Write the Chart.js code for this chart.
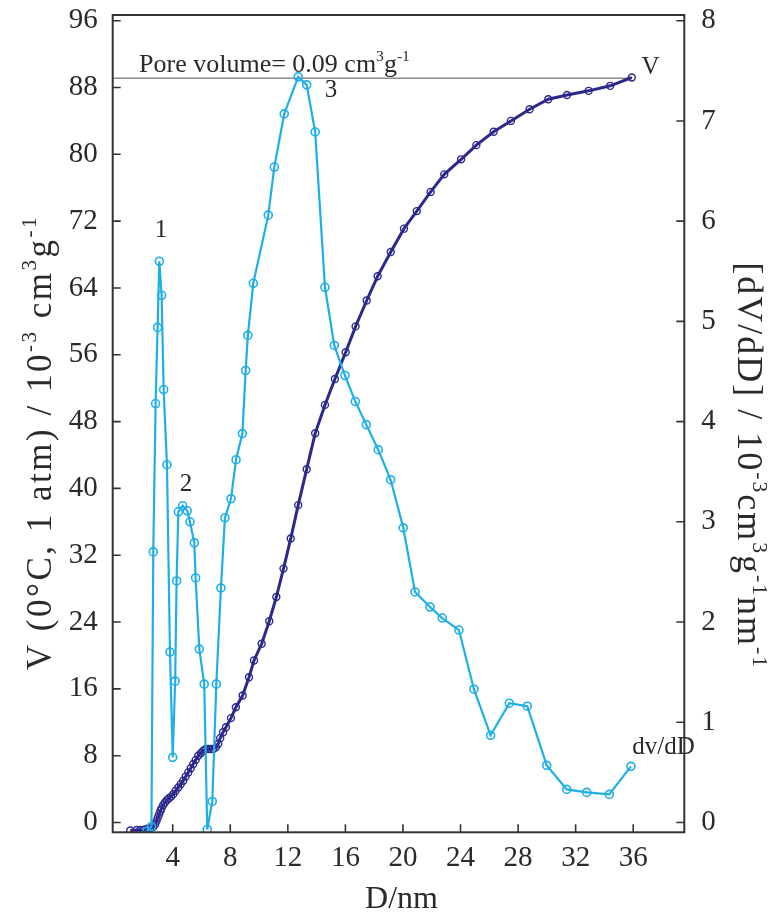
<!DOCTYPE html>
<html>
<head>
<meta charset="utf-8">
<script src="https://cdn.jsdelivr.net/npm/chart.js@4.4.1/dist/chart.umd.min.js"></script>
<style>
  body { margin: 0; background: #fff; }
  canvas { display: block; }
</style>
</head>
<body>
<canvas id="chart" width="777" height="923"></canvas>
<script>
'use strict';

// cumulative pore volume, V (10^-3 cm3/g) against pore diameter D (nm)
const volD = [1.05, 1.5, 1.75, 2.0, 2.25, 2.45, 2.65, 2.78, 2.88, 2.97, 3.06, 3.15, 3.23, 3.34, 3.46,
  3.6, 3.74, 3.89, 4.04, 4.2, 4.39, 4.56, 4.73, 4.9, 5.08, 5.25, 5.43, 5.6, 5.77, 5.95, 6.12, 6.3,
  6.47, 6.65, 6.82, 7.0, 7.16, 7.3, 7.5, 7.7, 8.05, 8.39, 8.86, 9.3, 9.65, 10.18, 10.71, 11.2, 11.7,
  12.2, 12.72, 13.31, 13.9, 14.58, 15.27, 16.02, 16.71, 17.48, 18.24, 19.15, 20.07, 20.96, 21.92,
  22.87, 24.04, 25.1, 26.3, 27.5, 28.8, 30.1, 31.4, 32.9, 34.4, 35.9];
const volV = [-0.95, -0.9, -0.9, -0.85, -0.75, -0.7, -0.5, -0.2, 0.2, 0.6, 1.0, 1.4, 1.7, 2.1, 2.4,
  2.7, 2.9, 3.1, 3.4, 3.8, 4.2, 4.6, 5.0, 5.5, 6.0, 6.5, 7.0, 7.5, 8.0, 8.3, 8.6, 8.8,
  8.8, 8.8, 8.8, 9.0, 9.4, 10.1, 10.8, 11.4, 12.5, 13.8, 15.2, 17.4, 19.4, 21.4, 24.1, 27.0, 30.4,
  34.0, 38.0, 42.3, 46.6, 50.0, 53.1, 56.3, 59.4, 62.5, 65.4, 68.3, 71.1, 73.2, 75.5,
  77.6, 79.4, 81.1, 82.7, 84.0, 85.4, 86.6, 87.1, 87.6, 88.2, 89.2];

// pore size distribution dV/dD (10^-3 cm3/g/nm)
const psdD = [2.2, 2.52, 2.65, 2.81, 2.95, 3.07, 3.23, 3.37, 3.6, 3.81, 4.0, 4.17, 4.27, 4.39, 4.69,
  5.01, 5.2, 5.5, 5.59, 5.85, 6.19, 6.4, 6.75, 7.03, 7.35, 7.63, 8.05, 8.4, 8.84, 9.07, 9.22, 9.6,
  10.64, 11.06, 11.75, 12.72, 13.31, 13.9, 14.58, 15.23, 15.97, 16.69, 17.45, 18.28, 19.14, 20.02,
  20.84, 21.88, 22.73, 23.89, 24.93, 26.09, 27.39, 28.64, 29.99, 31.38, 32.77, 34.34, 35.84];
const psdV = [-0.09, -0.04, 2.7, 4.18, 4.94, 5.6, 5.26, 4.32, 3.57, 1.7, 0.65, 1.41, 2.41, 3.1, 3.16,
  3.11, 3.0, 2.79, 2.44, 1.73, 1.38, -0.07, 0.21, 1.38, 2.34, 3.04, 3.23, 3.62, 3.88, 4.51, 4.86, 5.38,
  6.06, 6.54, 7.07, 7.44, 7.36, 6.89, 5.34, 4.76, 4.46, 4.2, 3.97, 3.72, 3.42, 2.94,
  2.3, 2.15, 2.04, 1.92, 1.33, 0.87, 1.19, 1.16, 0.57, 0.33, 0.3, 0.28, 0.56];

const poreLevel = 89.1;      // total pore volume line
const poreLineEndD = 35.9;

const xTicks = [4, 8, 12, 16, 20, 24, 28, 32, 36];
const yTicks = [0, 8, 16, 24, 32, 40, 48, 56, 64, 72, 80, 88, 96];
const y2Ticks = [0, 1, 2, 3, 4, 5, 6, 7, 8];

// peak numbers and curve names, placed in data units (D, V)
const notes = [
  { text: '1', d: 3.18, v: 71.1 },
  { text: '2', d: 4.92, v: 40.7 },
  { text: '3', d: 15.0, v: 87.8 },
  { text: 'V', d: 37.2, v: 90.6 },
  { text: 'dv/dD', d: 38.1, v: 9.2 }
];

const SERIF = '"Liberation Serif", "Times New Roman", serif';
const LIGHT = 'rgb(30,174,232)';
const DARK = 'rgb(44,40,140)';
const INK = '#2a2a2a';

function toPoints(xs, ys) {
  return xs.map((x, i) => ({ x: x, y: ys[i] }));
}

// draws text with superscript pieces, starting at (x, y) baseline
function richText(ctx, parts, x, y, size) {
  let pos = x;
  for (const p of parts) {
    const s = p.sup ? size * 0.6 : size;
    ctx.font = s + 'px ' + SERIF;
    ctx.fillText(p.t, pos, p.sup ? y - size * 0.42 : y);
    pos += ctx.measureText(p.t).width;
  }
  return pos - x;
}
function richWidth(ctx, parts, size) {
  let w = 0;
  for (const p of parts) {
    ctx.font = (p.sup ? size * 0.6 : size) + 'px ' + SERIF;
    w += ctx.measureText(p.t).width;
  }
  return w;
}

const leftTitle = [{ t: 'V (0°C, 1 atm) / 10' }, { t: '-3', sup: true }, { t: ' cm' }, { t: '3', sup: true },
  { t: 'g' }, { t: '-1', sup: true }];
const rightTitle = [{ t: '[dV/dD] / 10' }, { t: '-3', sup: true }, { t: 'cm' }, { t: '3', sup: true },
  { t: 'g' }, { t: '-1', sup: true }, { t: 'nm' }, { t: '-1', sup: true }];
const poreText = [{ t: 'Pore volume= 0.09 cm' }, { t: '3', sup: true }, { t: 'g' }, { t: '-1', sup: true }];

const framePlugin = {
  id: 'frame',
  afterDatasetsDraw(chart) {
    const ctx = chart.ctx;
    const a = chart.chartArea;
    const sx = chart.scales.x, sy = chart.scales.y, sy2 = chart.scales.y2;
    ctx.save();
    ctx.strokeStyle = '#333';
    ctx.lineWidth = 2;
    ctx.strokeRect(a.left, a.top, a.right - a.left, a.bottom - a.top);
    // inward tick marks
    ctx.lineWidth = 1.6;
    ctx.beginPath();
    xTicks.forEach(v => {
      const px = sx.getPixelForValue(v);
      ctx.moveTo(px, a.bottom); ctx.lineTo(px, a.bottom - 8);
    });
    yTicks.forEach(v => {
      const py = sy.getPixelForValue(v);
      ctx.moveTo(a.left, py); ctx.lineTo(a.left + 8, py);
    });
    y2Ticks.forEach(v => {
      const py = sy2.getPixelForValue(v);
      ctx.moveTo(a.right, py); ctx.lineTo(a.right - 8, py);
    });
    ctx.stroke();

    // annotations
    ctx.fillStyle = INK;
    ctx.textBaseline = 'alphabetic';
    ctx.textAlign = 'center';
    ctx.font = '25px ' + SERIF;
    notes.forEach(n => {
      ctx.fillText(n.text, sx.getPixelForValue(n.d), sy.getPixelForValue(n.v) + 8);
    });
    ctx.textAlign = 'left';
    richText(ctx, poreText, sx.getPixelForValue(1.66), sy.getPixelForValue(poreLevel) - 6, 26);

    // axis titles
    const mid = (a.top + a.bottom) / 2;
    ctx.letterSpacing = '2.5px';
    let w = richWidth(ctx, leftTitle, 35);
    ctx.save();
    ctx.translate(51, mid + 19 + w / 2);
    ctx.rotate(-Math.PI / 2);
    richText(ctx, leftTitle, 0, 0, 35);
    ctx.restore();

    ctx.letterSpacing = '2px';
    w = richWidth(ctx, rightTitle, 36);
    ctx.save();
    ctx.translate(738, mid + 42 - w / 2);
    ctx.rotate(Math.PI / 2);
    richText(ctx, rightTitle, 0, 0, 36);
    ctx.restore();

    ctx.letterSpacing = '0px';
    ctx.font = '32px ' + SERIF;
    ctx.textAlign = 'center';
    ctx.fillText('D/nm', sx.getPixelForValue(19.9), 908);
    ctx.restore();
  }
};

const tickFont = { family: SERIF, size: 29 };

new Chart(document.getElementById('chart').getContext('2d'), {
  type: 'scatter',
  data: {
    datasets: [{
      label: 'dv/dD',
      data: toPoints(psdD, psdV),
      yAxisID: 'y2',
      showLine: true,
      borderColor: LIGHT,
      borderWidth: 2.2,
      pointRadius: 4,
      pointBorderWidth: 1.6,
      pointBorderColor: LIGHT,
      pointBackgroundColor: 'rgba(0,0,0,0)'
    }, {
      label: 'V',
      data: toPoints(volD, volV),
      yAxisID: 'y',
      showLine: true,
      borderColor: DARK,
      borderWidth: 3,
      pointRadius: 3.5,
      pointBorderWidth: 1.4,
      pointBorderColor: DARK,
      pointBackgroundColor: 'rgba(0,0,0,0)'
    }, {
      label: 'pore volume',
      data: [{ x: -0.17, y: poreLevel }, { x: poreLineEndD, y: poreLevel }],
      yAxisID: 'y',
      showLine: true,
      borderColor: '#8c8c8c',
      borderWidth: 1.5,
      pointRadius: 0
    }]
  },
  options: {
    responsive: false,
    animation: false,
    devicePixelRatio: 1,
    layout: { padding: { top: 15, left: 0, right: 0, bottom: 0 } },
    plugins: { legend: { display: false }, tooltip: { enabled: false } },
    scales: {
      x: {
        type: 'linear', position: 'bottom', min: -0.17, max: 39.55,
        grid: { display: false }, border: { display: false },
        ticks: { font: tickFont, color: INK, padding: 1 },
        afterBuildTicks: s => { s.ticks = xTicks.map(v => ({ value: v })); },
        afterFit: s => { s.height = 90.7; s.paddingLeft = 0; s.paddingRight = 0; }
      },
      y: {
        type: 'linear', position: 'left', min: -1.17, max: 96.68,
        grid: { display: false }, border: { display: false },
        ticks: { font: tickFont, color: INK, padding: 7 },
        afterBuildTicks: s => { s.ticks = yTicks.map(v => ({ value: v })); },
        afterFit: s => { s.width = 112.7; s.paddingTop = 0; s.paddingBottom = 0; }
      },
      y2: {
        type: 'linear', position: 'right', min: -0.098, max: 8.057,
        grid: { display: false }, border: { display: false },
        ticks: { font: tickFont, color: INK, padding: 9 },
        afterBuildTicks: s => { s.ticks = y2Ticks.map(v => ({ value: v })); },
        afterFit: s => { s.width = 92.7; s.paddingTop = 0; s.paddingBottom = 0; }
      }
    }
  },
  plugins: [framePlugin]
});
</script>
</body>
</html>
